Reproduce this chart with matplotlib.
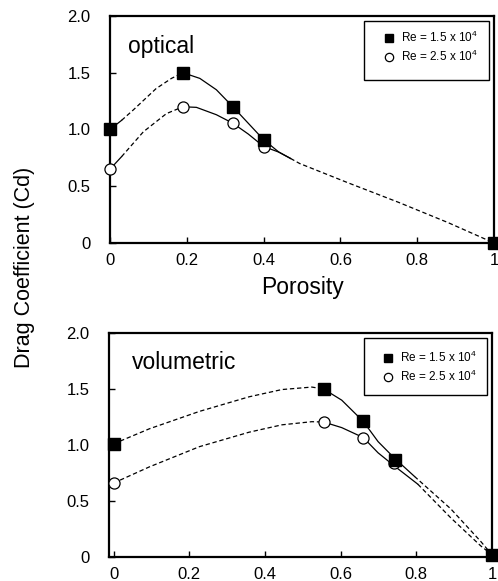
import matplotlib
matplotlib.use("Agg")
import matplotlib.pyplot as plt
from matplotlib.patches import Rectangle

plt.rcParams['font.family'] = ['Liberation Sans', 'DejaVu Sans']
plt.rcParams['mathtext.default'] = 'regular'

# measured points (marker positions)
porosity_opt = [0.0, 0.19, 0.32, 0.40, 1.0]
cd_opt_15 = [1.0, 1.5, 1.2, 0.91, 0.0]
cd_opt_25 = [0.65, 1.2, 1.055, 0.85, 0.0]

porosity_vol_15 = [0.0, 0.555, 0.66, 0.743, 1.0]
cd_vol_15 = [1.01, 1.5, 1.21, 0.87, 0.02]
porosity_vol_25 = [0.0, 0.555, 0.66, 0.74, 1.0]
cd_vol_25 = [0.66, 1.205, 1.066, 0.84, 0.02]

# guide curves: (x list, y list)
opt_15_solid_a = ([0.0, 0.03], [1.0, 1.08])
opt_15_dash = ([0.03, 0.06, 0.12, 0.16, 0.19], [1.08, 1.17, 1.36, 1.45, 1.5])
opt_15_solid_b = ([0.19, 0.234, 0.277, 0.32, 0.36, 0.40, 0.44, 0.47],
                  [1.5, 1.45, 1.35, 1.2, 1.055, 0.91, 0.80, 0.745])
opt_25_solid_a = ([0.0, 0.03], [0.65, 0.76])
opt_25_dash = ([0.03, 0.087, 0.147, 0.19], [0.76, 0.98, 1.14, 1.2])
opt_25_solid_b = ([0.19, 0.225, 0.277, 0.32, 0.36, 0.40, 0.44, 0.47],
                  [1.2, 1.195, 1.13, 1.055, 0.96, 0.85, 0.80, 0.745])
opt_tail = ([0.47, 0.494, 0.62, 0.75, 0.88, 1.0], [0.745, 0.70, 0.53, 0.36, 0.18, 0.0])

vol_15_dash = ([0.0, 0.095, 0.227, 0.358, 0.445, 0.524, 0.555],
               [1.01, 1.145, 1.30, 1.43, 1.495, 1.517, 1.5])
vol_15_solid = ([0.555, 0.603, 0.66, 0.699, 0.743, 0.795],
                [1.5, 1.40, 1.21, 1.03, 0.88, 0.72])
vol_15_tail = ([0.795, 0.891, 0.97, 1.0], [0.72, 0.43, 0.14, 0.02])
vol_25_dash = ([0.0, 0.095, 0.227, 0.358, 0.445, 0.524, 0.555],
               [0.66, 0.805, 0.985, 1.114, 1.18, 1.208, 1.205])
vol_25_solid = ([0.555, 0.603, 0.66, 0.699, 0.743, 0.804],
                [1.205, 1.155, 1.066, 0.93, 0.81, 0.65])
vol_25_tail = ([0.804, 0.891, 0.97, 1.0], [0.65, 0.35, 0.10, 0.02])

x_ticks = [0, 0.2, 0.4, 0.6, 0.8, 1.0]
x_tick_labels = ['0', '0.2', '0.4', '0.6', '0.8', '1']
y_ticks = [0, 0.5, 1.0, 1.5, 2.0]
y_tick_labels = ['0', '0.5', '1.0', '1.5', '2.0']
legend_labels = ['Re = 1.5 x 10$^{4}$', 'Re = 2.5 x 10$^{4}$']

fig = plt.figure(figsize=(4.98, 5.81), dpi=100)
ax1 = fig.add_axes([110 / 498, 0.5818, 384 / 498, 0.3907])
ax2 = fig.add_axes([109 / 498, 0.0413, 383 / 498, 0.3856])

dash = (0, (3.5, 2.2))
lw = 0.9


def draw_line(ax, curve, style):
    ax.plot(curve[0], curve[1], color='black', lw=lw, linestyle=style, clip_on=False)


for c in [opt_15_solid_a, opt_15_solid_b, opt_25_solid_a, opt_25_solid_b]:
    draw_line(ax1, c, '-')
for c in [opt_15_dash, opt_25_dash, opt_tail]:
    draw_line(ax1, c, dash)

for c in [vol_15_solid, vol_25_solid]:
    draw_line(ax2, c, '-')
for c in [vol_15_dash, vol_25_dash, vol_15_tail, vol_25_tail]:
    draw_line(ax2, c, dash)

ax1.plot(porosity_opt, cd_opt_25, 'o', ms=8, mfc='white', mec='black', mew=0.9,
         linestyle='none', clip_on=False, label=legend_labels[1], zorder=3)
ax1.plot(porosity_opt, cd_opt_15, 's', ms=8.5, color='black',
         linestyle='none', clip_on=False, label=legend_labels[0], zorder=4)
ax2.plot(porosity_vol_25, cd_vol_25, 'o', ms=8, mfc='white', mec='black', mew=0.9,
         linestyle='none', clip_on=False, label=legend_labels[1], zorder=3)
ax2.plot(porosity_vol_15, cd_vol_15, 's', ms=8.5, color='black',
         linestyle='none', clip_on=False, label=legend_labels[0], zorder=4)

ax1.set_xlim(0, 1.0)
ax2.set_xlim(-0.012, 1.0)

for ax in [ax1, ax2]:
    ax.set_ylim(0, 2.0)
    ax.set_xticks(x_ticks)
    ax.set_xticklabels(x_tick_labels)
    ax.set_yticks(y_ticks)
    ax.set_yticklabels(y_tick_labels)
    ax.tick_params(axis='both', direction='in', length=4, width=1, labelsize=12)
    ax.tick_params(axis='x', pad=7)
    ax.tick_params(axis='y', pad=14)
    for s in ax.spines.values():
        s.set_linewidth(1.6)

ax1.set_xlabel('Porosity', fontsize=16.5, labelpad=6)

ax1.text(0.047, 1.67, 'optical', fontsize=16.5, va='baseline')
ax2.text(0.048, 1.68, 'volumetric', fontsize=16.5, va='baseline')

# legend boxes
ax1.add_patch(Rectangle((0.661, 0.72), 0.326, 0.259, transform=ax1.transAxes,
                        fill=False, lw=1, edgecolor='black', zorder=5))
ax2.add_patch(Rectangle((0.665, 0.723), 0.322, 0.253, transform=ax2.transAxes,
                        fill=False, lw=1, edgecolor='black', zorder=5))

for ax, center in [(ax1, (0.837, 0.863)), (ax2, (0.838, 0.848))]:
    h, l = ax.get_legend_handles_labels()
    ax.legend(h[::-1], l[::-1], loc='center', bbox_to_anchor=center, frameon=False,
              fontsize=8.5, borderpad=0, handlelength=0.8, handletextpad=0.6,
              labelspacing=0.35, markerscale=0.75)

fig.text(0.05, 1 - 267 / 581, 'Drag Coefficient (Cd)', rotation=90,
         ha='center', va='center', fontsize=15.5)

fig.savefig('out.png', dpi=100)
